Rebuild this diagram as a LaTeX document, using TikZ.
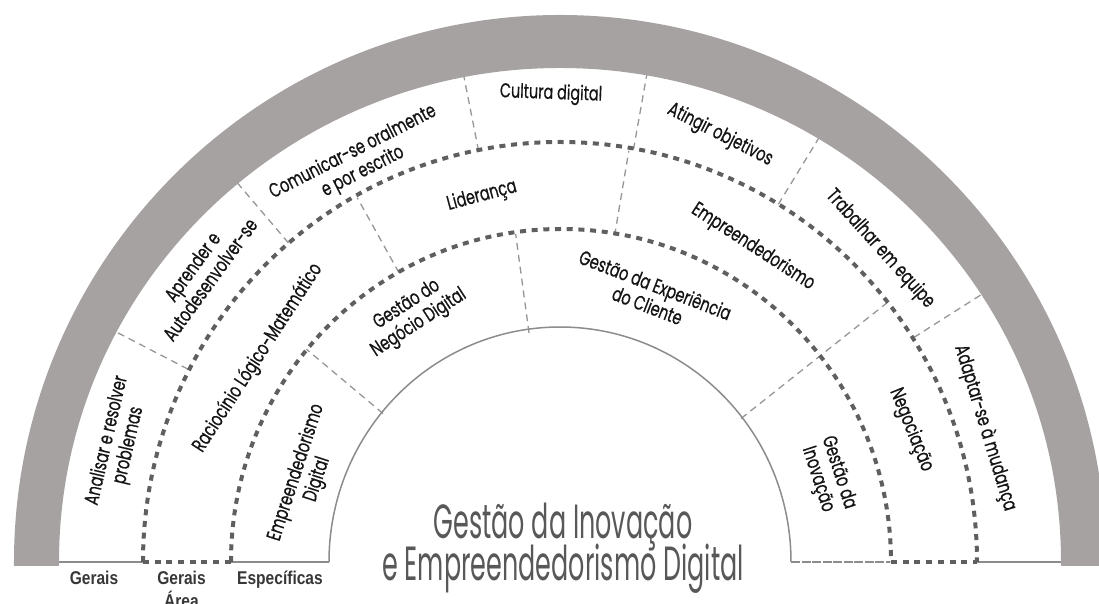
\documentclass[tikz,border=0pt]{standalone}
\usepackage{fontspec}
\setmainfont[FakeStretch=0.72,FakeBold=0.6]{Poppins}
\newfontfamily\titlefont[FakeStretch=0.53]{Poppins}
\newfontfamily\axisfont[FakeStretch=0.84]{Liberation Sans}
\definecolor{band}{RGB}{166,162,161}
\definecolor{dotc}{RGB}{95,95,95}
\definecolor{divc}{RGB}{150,150,150}
\definecolor{arcc}{RGB}{140,140,140}
\definecolor{titc}{RGB}{88,88,88}
\definecolor{txt}{RGB}{20,20,20}
\tikzset{
  lbl/.style={align=center, font=\fontsize{20}{22}\selectfont, text=txt, inner sep=0pt},
  axislbl/.style={align=center, font=\axisfont\bfseries\fontsize{18.5}{23}\selectfont, text=txt!85, inner sep=0pt, anchor=base},
  titlelbl/.style={font=\titlefont\fontsize{48}{48}\selectfont, text=titc, inner sep=0pt, anchor=base},
  divider/.style={draw=divc, line width=1.3pt, dash pattern=on 7pt off 5pt},
  dotline/.style={draw=dotc, line width=4pt, dash pattern=on 6pt off 5.7pt},
  baseln/.style={draw=arcc, line width=1.5pt},
  innerarc/.style={draw=arcc, line width=1.5pt},
}
\begin{document}
\begin{tikzpicture}[x=1pt,y=1pt]
\useasboundingbox (-560,-42) rectangle (539,562);
\clip (-560,-42) rectangle (539,562);
% radial dividers, ring 1
\foreach \a in {152.6,130.4,101.2,79.9,58.6,32.4}
  \draw[divider] (\a:419) -- (\a:505);
% ring 2
\foreach \a in {119.1,80.5}
  \draw[divider] (\a:331) -- (\a:417);
\draw[divider] (38.4:231) -- (38.4:417);
% ring 3
\foreach \a in {140,97.7}
  \draw[divider] (\a:231) -- (\a:331);
% baseline
\draw[baseln] (-505,0) -- (-417,0);
\draw[baseln] (-330,0) -- (-231,0);
\draw[draw=arcc, line width=1.5pt, dash pattern=on 9pt off 1.5pt] (231,0) -- (330,0);
\draw[baseln] (417,0) -- (505,0);
% inner semicircle
\draw[innerarc] (-231,0) arc[start angle=180,end angle=0,x radius=231,y radius=235];
% dotted boundaries
\draw[dotline] (-417,0) arc[start angle=180,end angle=0,x radius=417,y radius=420];
\draw[dotline] (-329,0) arc[start angle=180,end angle=0,x radius=330,y radius=333];
\draw[dotline] (-417,0) -- (-329,0);
\draw[dotline] (331,0) -- (417,0);
% gray band
\fill[band] (-546,-4) -- (-546,0) arc[start angle=180,end angle=0,x radius=546,y radius=547]
  -- (546,-4) -- (501,-4) -- (501,0) arc[start angle=0,end angle=180,x radius=501,y radius=494]
  -- (-501,-4) -- cycle;
% ring 1 labels
\node[lbl, rotate=77] (analisar) at (-442,119) {Analisar e resolver\\problemas};
\node[lbl, rotate=54] (aprender) at (-359,289) {Aprender e\\Autodesenvolver-se};
\node[lbl, rotate=27] (comunicar) at (-202,400) {Comunicar-se oralmente\\e por escrito};
\node[lbl, rotate=-2] (cultura) at (-9,468) {Cultura digital};
\node[lbl, rotate=-27] (atingir) at (160,427) {Atingir objetivos};
\node[lbl, rotate=-48] (trabalhar) at (320,313) {Trabalhar em equipe};
\node[lbl, rotate=-73] (adaptar) at (425,134) {Adaptar-se à mudança};
% ring 2 labels
\node[lbl, rotate=57] (raciocinio) at (-302,204) {Raciocínio Lógico-Matemático};
\node[lbl, rotate=15] (lideranca) at (-78,366) {Liderança};
\node[lbl, rotate=-33] (empreend) at (193,315) {Empreendedorismo};
\node[lbl, rotate=-68] (negociacao) at (351,132) {Negociação};
% ring 3 labels
\node[lbl, rotate=72] (empdigital) at (-253,86) {Empreendedorismo\\Digital};
\node[lbl, rotate=33] (negocio) at (-147,248) {Gestão do\\Negócio Digital};
\node[lbl, rotate=-21] (cliente) at (91.5,267) {Gestão da Experiência\\do Cliente};
\node[lbl, rotate=-72] (inovacao) at (268,86) {Gestão da\\Inovação};
% title
\node[titlelbl] (title1) at (3,23.4) {Gestão da Inovação};
\node[titlelbl] (title2) at (3,-18.7) {e Empreendedorismo Digital};
% axis labels
\node[axislbl] (gerais) at (-466,-23) {Gerais};
\node[axislbl] (geraisarea) at (-378.5,-23) {Gerais};
\node[axislbl] (area) at (-378.5,-46) {Área};
\node[axislbl] (especificas) at (-280,-23) {Específicas};
\end{tikzpicture}
\end{document}
